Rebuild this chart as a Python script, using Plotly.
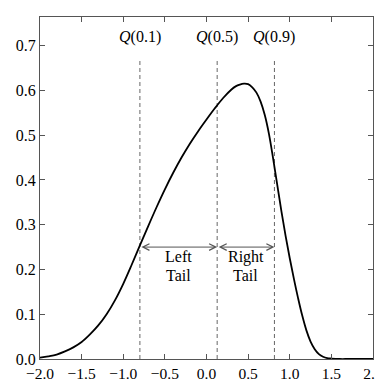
import plotly.graph_objects as go

# density curve
x_vals = [-2.0, -1.9, -1.8, -1.7, -1.6, -1.5, -1.4, -1.3, -1.2, -1.1, -1.0,
          -0.9, -0.8, -0.7, -0.6, -0.5, -0.4, -0.3, -0.2, -0.1, 0.0,
          0.1, 0.2, 0.3, 0.35, 0.4, 0.45, 0.5, 0.55, 0.6, 0.65, 0.7, 0.75, 0.8, 0.85, 0.9, 0.95,
          1.0, 1.05, 1.1, 1.15, 1.2, 1.25, 1.3, 1.35, 1.4, 1.45, 1.5, 1.6, 1.7, 1.8, 1.9, 2.0]
y_vals = [0.003, 0.006, 0.010, 0.017, 0.026, 0.038, 0.055, 0.075, 0.100, 0.131, 0.168,
          0.210, 0.254, 0.297, 0.339, 0.379, 0.416, 0.450, 0.481, 0.509, 0.535,
          0.560, 0.583, 0.602, 0.609, 0.613, 0.615, 0.614, 0.607, 0.595, 0.575, 0.545, 0.503, 0.448, 0.389, 0.330, 0.275,
          0.225, 0.179, 0.136, 0.097, 0.064, 0.039, 0.022, 0.011, 0.005, 0.002, 0.001, 0.0, 0.0, 0.0, 0.0, 0.0]

quantile_names = ["Q(0.1)", "Q(0.5)", "Q(0.9)"]
quantile_x = [-0.80, 0.128, 0.816]
line_top = 0.667
label_y = 0.695
arrow_y = 0.25
tail_line1 = ["Left", "Right"]
tail_line2 = ["Tail", "Tail"]
tail_line1_y = 0.228
tail_line2_y = 0.187

x_ticks = [-2.0, -1.5, -1.0, -0.5, 0.0, 0.5, 1.0, 1.5, 2.0]
y_ticks = [0.0, 0.1, 0.2, 0.3, 0.4, 0.5, 0.6, 0.7]

FONT = "Liberation Serif, Times New Roman, serif"

fig = go.Figure()

for q in quantile_x:
    fig.add_trace(go.Scatter(x=[q, q], y=[0, line_top], mode="lines",
                             line=dict(color="#666666", width=1, dash="4px,3px"),
                             showlegend=False, hoverinfo="skip"))

fig.add_trace(go.Scatter(x=x_vals, y=y_vals, mode="lines",
                         line=dict(color="black", width=1.8, shape="spline", smoothing=1.0),
                         showlegend=False))

for name, q in zip(quantile_names, quantile_x):
    fig.add_annotation(x=q, y=label_y, text="<i>Q</i>" + name[1:], showarrow=False,
                       font=dict(family=FONT, size=16, color="black"), yanchor="bottom")

# double-headed arrows between quantiles
for i in range(2):
    x0, x1 = quantile_x[i], quantile_x[i + 1]
    fig.add_annotation(x=x1, y=arrow_y, ax=x0, ay=arrow_y, xref="x", yref="y",
                       axref="x", ayref="y", text="", showarrow=True,
                       arrowhead=5, startarrowhead=5, arrowside="end+start",
                       arrowsize=1.3, startarrowsize=1.3, arrowwidth=1, arrowcolor="#555555")
    fig.add_annotation(x=(x0 + x1) / 2, y=tail_line1_y, text=tail_line1[i], showarrow=False,
                       font=dict(family=FONT, size=16, color="black"), borderpad=0)
    fig.add_annotation(x=(x0 + x1) / 2, y=tail_line2_y, text=tail_line2[i], showarrow=False,
                       font=dict(family=FONT, size=16, color="black"), borderpad=0)

axis_common = dict(showgrid=False, zeroline=False, showline=True, linecolor="#555555",
                   linewidth=1, mirror="ticks", ticks="inside", ticklen=5, tickwidth=1,
                   tickcolor="#555555")

fig.update_xaxes(range=[-2, 2], tickvals=x_ticks,
                 ticktext=[f"{v:.1f}".replace("-", "\u2212") for v in x_ticks],
                 tickfont=dict(family=FONT, size=15.5, color="black"), **axis_common)
fig.update_yaxes(range=[0, 0.764], tickvals=y_ticks,
                 ticktext=[f"{v:.1f}" for v in y_ticks],
                 tickfont=dict(family=FONT, size=16, color="black"), **axis_common)

fig.update_layout(width=383, height=382, margin=dict(l=28, r=10, t=8, b=18),
                  plot_bgcolor="white", paper_bgcolor="white",
                  font=dict(family=FONT))

fig.write_html("out.html")
